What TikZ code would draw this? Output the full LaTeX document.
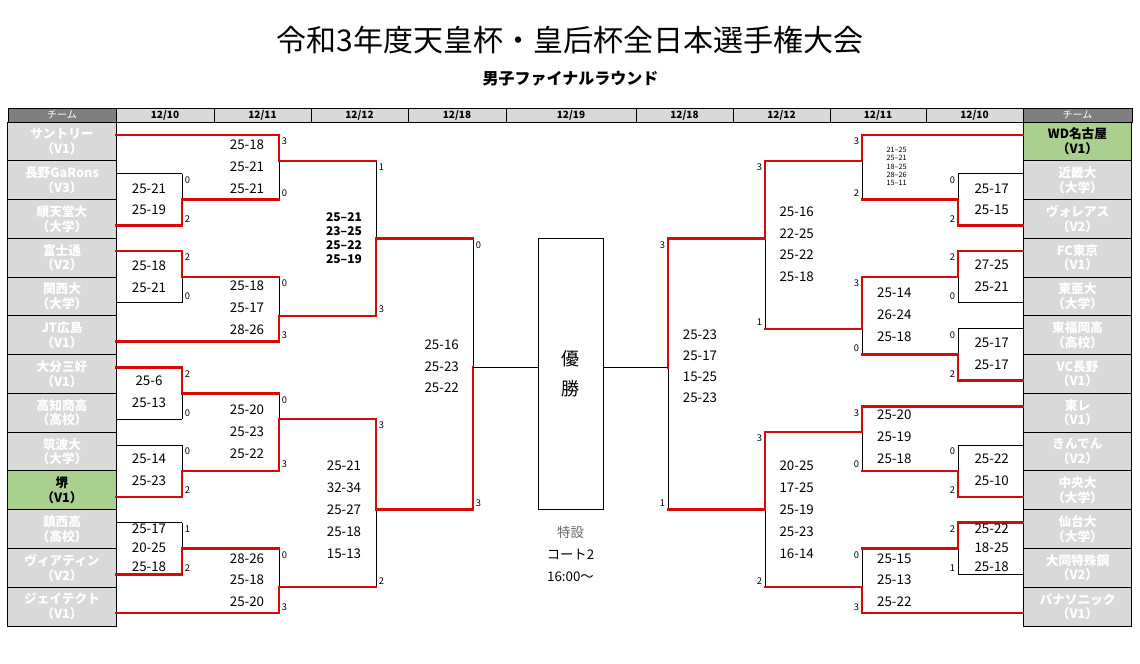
\documentclass[tikz,border=0pt]{standalone}
\usepackage{fontspec}
\setmainfont{Noto Sans CJK JP}
\usepackage{xcolor}
\usetikzlibrary{positioning}
\definecolor{cellgray}{RGB}{217,217,217}
\definecolor{headgray}{RGB}{127,127,127}
\definecolor{wingreen}{RGB}{169,208,142}
\definecolor{winred}{RGB}{215,10,10}
\definecolor{notegray}{RGB}{100,100,100}
\tikzset{
    x=0.75pt, y=-0.75pt, % one unit is one pixel of the sheet, y runs down
    win/.style={draw=winred, line width=1.8pt, line cap=rect}, % path of the winner
    lose/.style={draw=black, line width=0.7pt},
    hide/.style={draw=none},
    upt/.style={win}, upb/.style={hide}, % upper half of a match
    lot/.style={hide}, lob/.style={win}, % lower half of a match
    team/.style={draw, line width=0.7pt, fill=cellgray, text=white, minimum width=81.4pt, minimum height=29.08pt, inner sep=0pt, align=center, font=\bfseries\fontsize{9.5}{11}\selectfont},
    champteam/.style={team, fill=wingreen, text=black},
    headcell/.style={draw, line width=0.7pt, fill=cellgray},
    headteam/.style={draw, line width=0.7pt, fill=headgray},
    headtext/.style={inner sep=0pt, font=\bfseries\fontsize{7.5}{9}\selectfont},
    setpt/.style={inner sep=2pt, font=\fontsize{7}{8}\selectfont},
    scores/.style={align=center, inner sep=0pt, font=\fontsize{10}{#1}\selectfont},
    scores/.default=16.5,
    final/.style={draw, line width=0.7pt, minimum width=48.75pt, minimum height=203.5pt, inner sep=0pt, align=center, font=\fontsize{13.5}{22.8}\selectfont},
}

\begin{document}
\begin{tikzpicture}
    \useasboundingbox (0,0) rectangle (1140,664);
    \node[font=\fontsize{22.5}{27}\selectfont] (title) at (570,40) {令和3年度天皇杯・皇后杯全日本選手権大会};
    \node[font=\bfseries\fontsize{12}{14}\selectfont] (sub) at (570.5,79) {男子ファイナルラウンド};

    % header
    \draw[headteam] (8,108) rectangle (116,122);
    \draw[headteam] (1023,108) rectangle (1132,122);
    \node[headtext, text=white, font=\fontsize{7.5}{9}\selectfont] (hl) at (62,115) {チーム};
    \node[headtext, text=white, font=\fontsize{7.5}{9}\selectfont] (hr) at (1077.5,115) {チーム};
    \foreach \a/\b/\mo/\dy in {116/214/12/10, 214/311/12/11, 311/408/12/12, 408/506/12/18, 506/636/12/19, 636/733/12/18, 733/830/12/12, 830/926/12/11, 926/1023/12/10}{
        \draw[headcell] (\a,108) rectangle (\b,122);
        \node[headtext] (h\a) at ({(\a+\b)/2},115) {\mo/\dy};
    }

    % teams
    \foreach \nm/\cl/\st [count=\i from 0] in {サントリー/V1/team, 長野GaRons/V3/team, 順天堂大/大学/team, 富士通/V2/team, 関西大/大学/team, JT広島/V1/team, 大分三好/V1/team, 高知商高/高校/team, 筑波大/大学/team, 堺/V1/champteam, 鎮西高/高校/team, ヴィアティン/V2/team, ジェイテクト/V1/team}
        \node[\st] (tl\i) at (62,{141.385+38.77*\i}) {\nm\\（\cl）};
    \foreach \nm/\cl/\st [count=\i from 0] in {WD名古屋/V1/champteam, 近畿大/大学/team, ヴォレアス/V2/team, FC東京/V1/team, 東亜大/大学/team, 東福岡高/高校/team, VC長野/V1/team, 東レ/V1/team, きんでん/V2/team, 中央大/大学/team, 仙台大/大学/team, 大同特殊鋼/V2/team, パナソニック/V1/team}
        \node[\st] (tr\i) at (1077.5,{141.385+38.77*\i}) {\nm\\（\cl）};

    % matches
    \foreach \m/\xv/\xt/\kt/\ct/\xb/\kb/\cb/\ko/\w/\lt/\lb/\s in {
        L1/182/116/4/lose/116/8/win/6/b/0/2/west,
        L2/279/116/1/win/182/6/win/3/t/3/0/west,
        L3/182/116/10/win/116/14/lose/12/t/2/0/west,
        L4/279/182/12/win/116/17/win/15/b/0/3/west,
        L5/376/279/3/win/279/15/win/9/b/1/3/west,
        L6/182/116/19/win/116/23/lose/21/t/2/0/west,
        L7/182/116/25/lose/116/29/win/27/b/0/2/west,
        L8/279/182/21/win/182/27/win/23/b/0/3/west,
        L9/182/116/31/lose/116/35/win/33/b/1/2/west,
        L10/279/182/33/win/116/38/win/36/b/0/3/west,
        L11/376/279/23/win/279/36/win/30/t/3/2/west,
        L12/473/376/9/win/376/30/win/19/b/0/3/west,
        R1/958/1023/4/lose/1023/8/win/6/b/0/2/east,
        R2/862/1023/1/win/958/6/win/3/t/3/2/east,
        R3/958/1023/10/win/1023/14/lose/12/t/2/0/east,
        R6/958/1023/16/lose/1023/20/win/18/b/0/2/east,
        R4/862/958/12/win/958/18/win/16/t/3/0/east,
        R5/765/862/3/win/862/16/win/9/t/3/1/east,
        R7/862/1023/22/win/958/27/win/24/t/3/0/east,
        R8/958/1023/25/lose/1023/29/win/27/b/0/2/east,
        R9/958/1023/31/win/1023/35/lose/33/t/2/1/east,
        R10/862/958/33/win/1023/38/win/36/b/0/3/east,
        R11/765/862/24/win/862/36/win/30/t/3/2/east,
        R12/668/765/9/win/765/30/win/19/t/3/1/east}{
        \coordinate (\m-ti) at (\xt,{122+12.923*\kt});
        \coordinate (\m-t) at (\xv,{122+12.923*\kt});
        \coordinate (\m-o) at (\xv,{122+12.923*\ko});
        \coordinate (\m-b) at (\xv,{122+12.923*\kb});
        \coordinate (\m-bi) at (\xb,{122+12.923*\kb});
        \draw[lose] (\m-t) -- (\m-b);
        \draw[\ct] (\m-ti) -- (\m-t);
        \draw[\cb] (\m-bi) -- (\m-b);
        \draw[up\w] (\m-t) -- (\m-o);
        \draw[lo\w] (\m-o) -- (\m-b);
        \node[setpt, anchor=north \s] (\m-lt) at (\m-t) {\lt};
        \node[setpt, anchor=south \s] (\m-lb) at (\m-b) {\lb};
    }

    % set scores
    \foreach \m/\x/\y/\sp/\txt in {
        sL1/149/199/16/25-21\\25-19,
        sL2/247/166.3/16.5/25-18\\25-21\\25-21,
        sL3/149/276.3/16.5/25-18\\25-21,
        sL4/247/308/16.5/25-18\\25-17\\28-26,
        sL6/149/392.2/16.5/25-6\\25-13,
        sL7/149/470/16.5/25-14\\25-23,
        sL8/247/431.7/16.5/25-20\\25-23\\25-22,
        sL9/149/547.7/14.25/25-17\\20-25\\25-18,
        sL10/247/580/16.3/28-26\\25-18\\25-20,
        sL11/344/509.3/16.5/25-21\\32-34\\25-27\\25-18\\15-13,
        sL12/441.7/366.3/16/25-16\\25-23\\25-22,
        sR1/991.7/199/16/25-17\\25-15,
        sR3/991.7/276.2/16.5/27-25\\25-21,
        sR4/894.3/315/16.5/25-14\\26-24\\25-18,
        sR5/796.7/244.2/16.3/25-16\\22-25\\25-22\\25-18,
        sR6/991.7/353.5/16.3/25-17\\25-17,
        sR7/894.3/436.7/16.3/25-20\\25-19\\25-18,
        sR8/991.7/470/16.5/25-22\\25-10,
        sR9/991.7/547.7/14.25/25-22\\18-25\\25-18,
        sR10/894.3/580/16.3/25-15\\25-13\\25-22,
        sR11/796.7/509.3/16.5/20-25\\17-25\\25-19\\25-23\\16-14,
        sR12/700/366.2/15.6/25-23\\25-17\\15-25\\25-23}
        \node[scores=\sp] (\m) at (\x,\y) {\txt};
    \node[scores, font=\bfseries\fontsize{9}{10.5}\selectfont] (sL5) at (344,237.7) {25–21\\23–25\\25–22\\25–19};
    \node[scores, font=\fontsize{5.5}{6.2}\selectfont] (sR2) at (896.7,166.5) {21–25\\25–21\\18–25\\28–26\\15–11};

    % final
    \node[final] (champ) at (570.5,373.95) {優\\勝};
    \draw[lose] (L12-o) -- (L12-o -| champ.west);
    \draw[lose] (R12-o) -- (R12-o -| champ.east);
    \node[scores] (court) at (570.5,554.3) {\textcolor{notegray}{特設}\\コート2\\16:00～};
\end{tikzpicture}
\end{document}
